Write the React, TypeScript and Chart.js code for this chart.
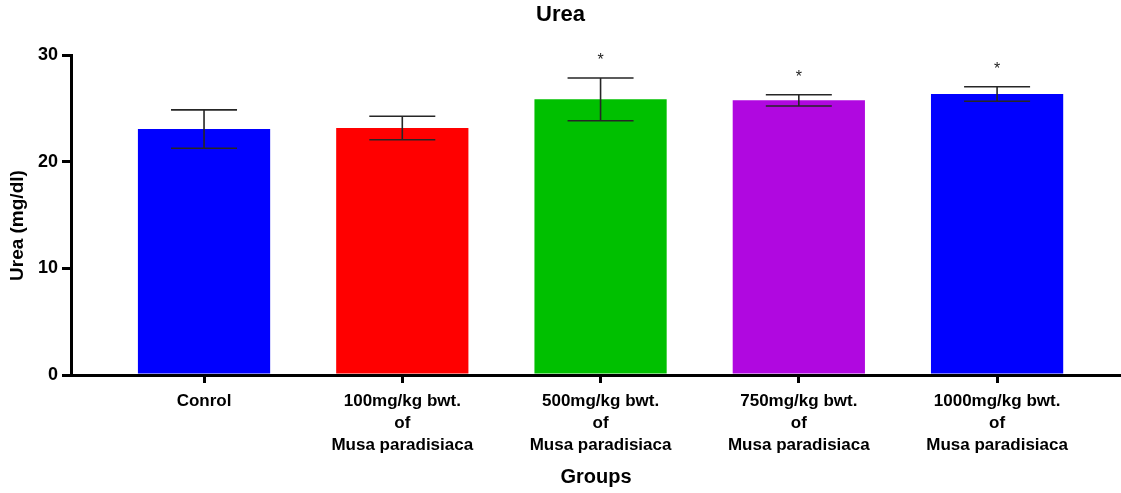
import React, { useEffect, useRef } from "react";
import { Chart, registerables } from "chart.js";

Chart.register(...registerables);

const categories: string[][] = [
  ["Conrol"],
  ["100mg/kg bwt.", "of", "Musa paradisiaca"],
  ["500mg/kg bwt.", "of", "Musa paradisiaca"],
  ["750mg/kg bwt.", "of", "Musa paradisiaca"],
  ["1000mg/kg bwt.", "of", "Musa paradisiaca"],
];
const means: number[] = [23.06, 23.16, 25.84, 25.75, 26.34];
const errors: number[] = [1.8, 1.1, 2.0, 0.53, 0.68];
const significant: boolean[] = [false, false, true, true, true];
const barColors: string[] = ["#0000FF", "#FF0000", "#00C000", "#B008E0", "#0000FF"];
const yTicks: number[] = [0, 10, 20, 30];

const FONT = "'Liberation Sans', Arial, sans-serif";

const errorBarPlugin = {
  id: "errorBars",
  afterDatasetsDraw(chart: any) {
    const { ctx, scales } = chart;
    const xs = scales.x;
    const ys = scales.y;
    ctx.save();
    means.forEach((m, i) => {
      const px = xs.getPixelForValue(i);
      const top = ys.getPixelForValue(m + errors[i]);
      const bot = ys.getPixelForValue(m - errors[i]);
      const half = 33;
      ctx.strokeStyle = "#262626";
      ctx.lineWidth = 1.6;
      ctx.beginPath();
      ctx.moveTo(px, top);
      ctx.lineTo(px, bot);
      ctx.moveTo(px - half, top);
      ctx.lineTo(px + half, top);
      ctx.moveTo(px - half, bot);
      ctx.lineTo(px + half, bot);
      ctx.stroke();
      if (significant[i]) {
        ctx.fillStyle = "#222";
        ctx.font = `16px ${FONT}`;
        ctx.textAlign = "center";
        ctx.textBaseline = "alphabetic";
        ctx.fillText("*", px, top - 13);
      }
    });
    ctx.restore();
  },
};

export default function App() {
  const ref = useRef<HTMLCanvasElement | null>(null);
  useEffect(() => {
    if (!ref.current) return;
    const chart = new Chart(ref.current, {
      type: "bar",
      data: {
        datasets: [
          {
            data: means.map((y, i) => ({ x: i, y })),
            backgroundColor: barColors,
            borderWidth: 0,
            barPercentage: 0.667,
            categoryPercentage: 1,
          },
        ],
      },
      options: {
        responsive: false,
        animation: false,
        devicePixelRatio: 1,
        layout: { padding: 0 },
        plugins: {
          legend: { display: false },
          tooltip: { enabled: false },
          title: {
            display: true,
            text: "Urea",
            color: "#000",
            font: { family: FONT, size: 22, weight: "bold", lineHeight: 1.2 },
            padding: { top: 2, bottom: 26.6 },
          },
        },
        scales: {
          x: {
            type: "linear",
            min: -0.671,
            max: 4.625,
            offset: false,
            afterBuildTicks: (s: any) => {
              s.ticks = categories.map((_, i) => ({ value: i }));
            },
            afterFit: (s: any) => {
              s.height = 118;
            },
            ticks: {
              autoSkip: false,
              maxRotation: 0,
              minRotation: 0,
              color: "#000",
              padding: 8,
              font: { family: FONT, size: 17, weight: "bold", lineHeight: 1.27 },
              callback: (v: any) => categories[v as number],
            },
            grid: {
              offset: false,
              drawOnChartArea: false,
              drawTicks: true,
              tickLength: 8,
              lineWidth: 3,
              color: "#000",
            },
            border: { display: true, color: "#000", width: 3 },
            title: {
              display: true,
              text: "Groups",
              color: "#000",
              font: { family: FONT, size: 20, weight: "bold", lineHeight: 1.2 },
              padding: { top: 0, bottom: 4 },
            },
          },
          y: {
            min: 0,
            max: 30,
            afterBuildTicks: (s: any) => {
              s.ticks = yTicks.map((v) => ({ value: v }));
            },
            afterFit: (s: any) => {
              s.width = 71;
            },
            ticks: {
              color: "#000",
              padding: 4,
              font: { family: FONT, size: 18, weight: "bold" },
            },
            grid: {
              drawOnChartArea: false,
              drawTicks: true,
              tickLength: 9,
              lineWidth: 3,
              color: "#000",
            },
            border: { display: true, color: "#000", width: 3 },
            title: {
              display: true,
              text: "Urea (mg/dl)    ",
              color: "#000",
              font: { family: FONT, size: 19, weight: "bold", lineHeight: 1.2 },
              padding: { top: 6, bottom: 0 },
            },
          },
        },
      },
      plugins: [errorBarPlugin],
    } as any);
    return () => chart.destroy();
  }, []);
  return (
    <div style={{ position: "fixed", left: 0, top: 0, width: 1121, height: 493, background: "#fff" }}>
      <canvas ref={ref} width={1121} height={493} style={{ display: "block" }} />
    </div>
  );
}
